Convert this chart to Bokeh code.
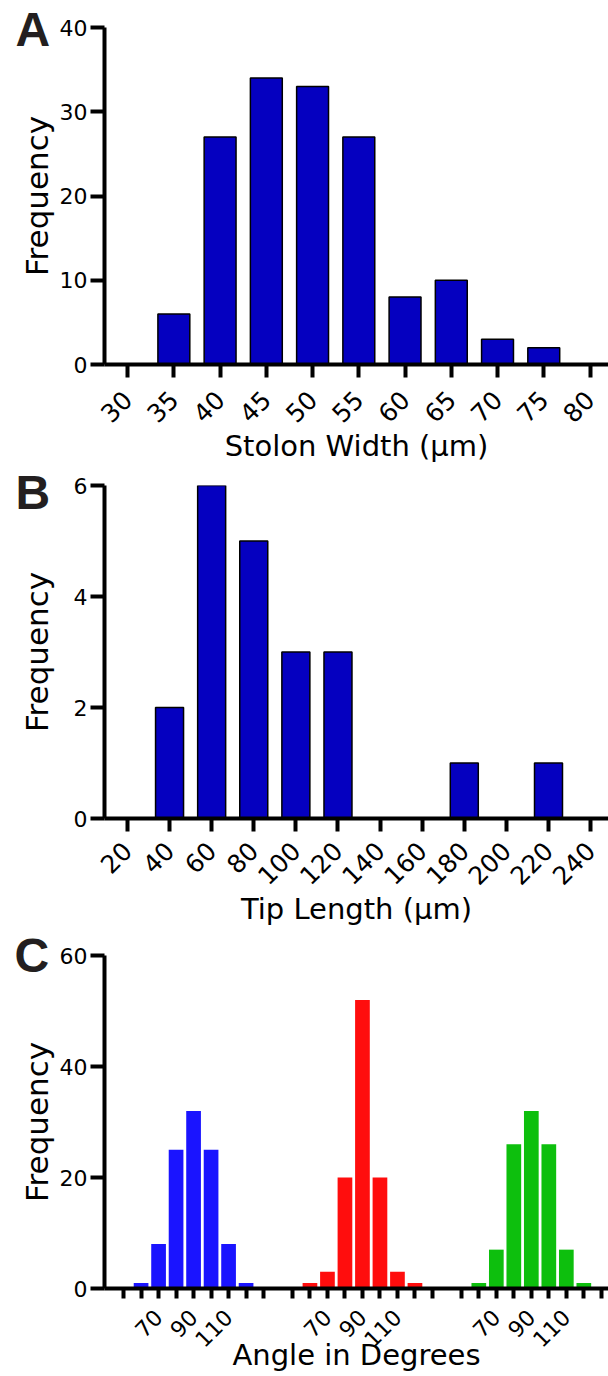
import math
from bokeh.plotting import figure
from bokeh.layouts import column
from bokeh.models import Range1d, FixedTicker
from bokeh.embed import file_html
from bokeh.resources import INLINE

# ---------------- data ----------------
width_bins = [30, 35, 40, 45, 50, 55, 60, 65, 70, 75, 80]
width_freq = [0, 6, 27, 34, 33, 27, 8, 10, 3, 2, 0]
width_yticks = [0, 10, 20, 30, 40]

tip_bins = [20, 40, 60, 80, 100, 120, 140, 160, 180, 200, 220, 240]
tip_freq = [0, 2, 6, 5, 3, 3, 0, 0, 1, 0, 1, 0]
tip_yticks = [0, 2, 4, 6]

angle_bins = [60, 70, 80, 90, 100, 110, 120]
angle_blue = [1, 8, 25, 32, 25, 8, 1]
angle_red = [1, 3, 20, 52, 20, 3, 1]
angle_green = [1, 7, 26, 32, 26, 7, 1]
angle_ticks = [50, 60, 70, 80, 90, 100, 110, 120, 130]
angle_labelled = [70, 90, 110]
angle_yticks = [0, 20, 40, 60]

# ---------------- style ----------------
FONT = "DejaVu Sans"
LETTER_FONT = "Liberation Sans"
YTICK_FS = "22px"
XTITLE_FS = "29px"
YTITLE_FS = "31px"
LETTER_FS = "48px"
DARK_BLUE = "#0500C0"
GROUP_COLORS = ["#1A14FF", "#FF0D0D", "#0DBF0D"]
GROUP_SHIFT = 96.5
FRAME_LEFT = 104


def style(p, xtick_out, ytick_out, xstandoff, ystandoff, xlabstand, xtick_fs):
    p.xgrid.visible = False
    p.ygrid.visible = False
    p.outline_line_color = None
    p.background_fill_color = "white"
    p.border_fill_color = "white"
    for ax in (p.xaxis[0], p.yaxis[0]):
        ax.axis_line_width = 4
        ax.axis_line_color = "black"
        ax.major_tick_line_width = 4
        ax.major_tick_line_color = "black"
        ax.major_tick_in = 0
        ax.minor_tick_line_color = None
        ax.major_label_text_font = FONT
        ax.major_label_text_color = "black"
        ax.axis_label_text_font = FONT
        ax.axis_label_text_font_style = "normal"
        ax.axis_label_text_color = "black"
    p.xaxis[0].major_label_text_font_size = xtick_fs
    p.yaxis[0].major_label_text_font_size = YTICK_FS
    p.xaxis[0].axis_label_text_font_size = XTITLE_FS
    p.yaxis[0].axis_label_text_font_size = YTITLE_FS
    p.xaxis[0].major_tick_out = xtick_out
    p.yaxis[0].major_tick_out = ytick_out
    p.xaxis[0].major_label_standoff = xlabstand
    p.yaxis[0].major_label_standoff = 3
    p.xaxis[0].major_label_orientation = math.pi / 4
    p.xaxis[0].axis_label_standoff = xstandoff
    p.yaxis[0].axis_label_standoff = ystandoff


def letter(p, txt, offset, standoff):
    t = p.title
    t.text = txt
    t.align = "left"
    t.vertical_align = "bottom"
    t.offset = offset
    t.standoff = standoff
    t.text_font = LETTER_FONT
    t.text_font_size = LETTER_FS
    t.text_font_style = "bold"
    t.text_color = "#231F20"


def make_fig(height, top, bottom, xr, yr):
    return figure(width=608, height=height, x_range=xr, y_range=yr,
                  output_backend="svg", toolbar_location=None,
                  min_border_left=FRAME_LEFT, min_border_right=0,
                  min_border_top=top, min_border_bottom=bottom)


# ---------------- panel A ----------------
A_TOP, A_FH, A_BOT = 27, 339, 99
xrA = Range1d(27.5, 82.0)
yrA = Range1d(0, 40)
pA = make_fig(A_TOP + A_FH + A_BOT, A_TOP, A_BOT, xrA, yrA)
xa = [b for b, f in zip(width_bins, width_freq) if f > 0]
fa = [f for f in width_freq if f > 0]
pA.vbar(x=xa, top=fa, width=3.45, bottom=0, fill_color=DARK_BLUE,
        line_color="black", line_width=1.5)
pA.xaxis.ticker = FixedTicker(ticks=width_bins)
pA.yaxis.ticker = FixedTicker(ticks=width_yticks)
pA.xaxis.axis_label = "Stolon Width (µm)"
pA.yaxis.axis_label = "Frequency"
style(pA, 13, 14, -5, 2, 18, "25px")
letter(pA, "A", -89, -56)

# ---------------- panel B ----------------
B_TOP, B_FH, B_BOT = 20, 336, 107
xrB = Range1d(9.1, 248.5)
yrB = Range1d(0, 6)
pB = make_fig(B_TOP + B_FH + B_BOT, B_TOP, B_BOT, xrB, yrB)
xb = [b for b, f in zip(tip_bins, tip_freq) if f > 0]
fb = [f for f in tip_freq if f > 0]
pB.vbar(x=xb, top=fb, width=13.3, bottom=0, fill_color=DARK_BLUE,
        line_color="black", line_width=1.5)
pB.xaxis.ticker = FixedTicker(ticks=tip_bins)
pB.yaxis.ticker = FixedTicker(ticks=tip_yticks)
pB.xaxis.axis_label = "Tip Length (µm)"
pB.yaxis.axis_label = "Frequency"
style(pB, 13, 14, -4, 16, 15, "25px")
letter(pB, "B", -89, -67)

# ---------------- panel C ----------------
C_TOP, C_FH, C_BOT = 27, 335, 84
xrC = Range1d(39.1, 327.1)
yrC = Range1d(0, 60)
pC = make_fig(C_TOP + C_FH + C_BOT, C_TOP, C_BOT, xrC, yrC)
for g, (vals, col) in enumerate(zip([angle_blue, angle_red, angle_green], GROUP_COLORS)):
    xs = [a + g * GROUP_SHIFT for a in angle_bins]
    pC.vbar(x=xs, top=vals, width=8.4, bottom=0, fill_color=col,
            line_color=None)
c_ticks = []
c_over = {}
for g in range(3):
    for a in angle_ticks:
        t = a + g * GROUP_SHIFT
        c_ticks.append(t)
        c_over[t] = str(a) if a in angle_labelled else ""
pC.xaxis.ticker = FixedTicker(ticks=c_ticks)
pC.xaxis.major_label_overrides = c_over
pC.yaxis.ticker = FixedTicker(ticks=angle_yticks)
pC.xaxis.axis_label = "Angle in Degrees"
pC.yaxis.axis_label = "Frequency"
style(pC, 10, 14, -20, 2, 15, "22px")
letter(pC, "C", -90, -53)

layout = column(pA, pB, pC, spacing=0)
open("out.html", "w").write(file_html(layout, INLINE))
